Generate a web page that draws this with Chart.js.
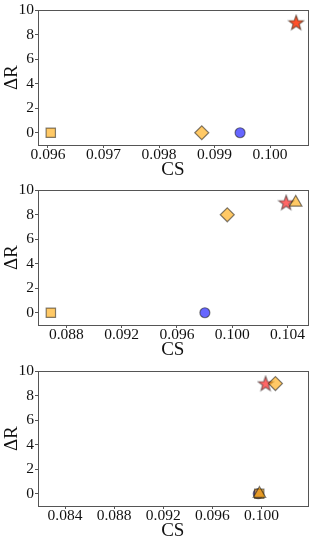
<!DOCTYPE html>
<html>
<head>
<meta charset="utf-8">
<script src="https://cdn.jsdelivr.net/npm/chart.js@4"></script>
<style>
  html, body { margin: 0; padding: 0; background: #fff; }
  body { width: 316px; height: 544px; position: relative; overflow: hidden; }
  .panel { position: absolute; left: 0; width: 316px; height: 180px; }
</style>
</head>
<body>
<div class="panel" style="top:0px"><canvas id="c0"></canvas></div>
<div class="panel" style="top:180px"><canvas id="c1"></canvas></div>
<div class="panel" style="top:361px"><canvas id="c2"></canvas></div>
<script>
// one entry per panel (top, middle, bottom); null = no point in that panel
const circleCS   = [0.09946, 0.09802, 0.09974];
const circleDR   = [0, 0, 0];
const squareCS   = [0.09605, 0.08688, 0.09982];
const squareDR   = [0, 0, 0];
const diamondCS  = [0.09877, 0.09964, 0.10114];
const diamondDR  = [0, 8, 9];
const triangleCS = [null, 0.10459, 0.09984];
const triangleDR = [null, 9, 0];
const starOrCS   = [0.10047, null, null];
const starOrDR   = [9, null, null];
const starCS     = [0.10047, 0.10390, 0.10034];
const starDR     = [9, 9, 9];

const xMin = [0.09582, 0.08595, 0.0818];
const xMax = [0.10068, 0.10545, 0.10376];
const xTicks = [
    [0.096, 0.097, 0.098, 0.099, 0.100],
    [0.088, 0.092, 0.096, 0.100, 0.104],
    [0.084, 0.088, 0.092, 0.096, 0.100]
];
const yTicks = [0, 2, 4, 6, 8, 10];

const ORANGE = 'rgba(255,165,0,0.6)';
const BLUE = 'rgba(0,0,255,0.6)';
const RED = 'rgba(255,0,0,0.6)';
const EDGE = 'rgba(30,30,30,0.55)';
const FONT = "'Liberation Serif', 'Times New Roman', serif";

function makeStar(fill, edge) {
    const c = document.createElement('canvas');
    c.width = 18; c.height = 18;
    const g = c.getContext('2d');
    const R = 7.8, r = 3.2;
    g.beginPath();
    for (let i = 0; i < 10; i++) {
        const a = -Math.PI / 2 + i * Math.PI / 5;
        const rad = i % 2 ? r : R;
        g.lineTo(9 + rad * Math.cos(a), 9.6 + rad * Math.sin(a));
    }
    g.closePath();
    g.fillStyle = fill;
    g.fill();
    if (edge) {
        g.strokeStyle = EDGE;
        g.lineWidth = 1.2;
        g.stroke();
    }
    return c;
}

function pts(xs, ys, i) {
    return xs[i] == null ? [] : [{x: xs[i], y: ys[i]}];
}

const frame = {
    id: 'frame',
    afterDraw(chart) {
        const a = chart.chartArea, ctx = chart.ctx;
        ctx.save();
        ctx.strokeStyle = '#555';
        ctx.lineWidth = 1;
        ctx.strokeRect(Math.round(a.left) + 0.5, Math.round(a.top) + 0.5,
            Math.round(a.right - a.left), Math.round(a.bottom - a.top));
        ctx.restore();
    }
};

function drawPanel(i) {
    const ds = (data, style, fill, radius) => ({
        data: data,
        pointStyle: style,
        pointRadius: radius,
        pointHoverRadius: radius,
        backgroundColor: fill,
        borderColor: EDGE,
        borderWidth: 1.2
    });
    // chart.js paints dataset 0 last, so the list runs top layer first
    new Chart(document.getElementById('c' + i), {
        type: 'scatter',
        data: {
            datasets: [
                ds(pts(triangleCS, triangleDR, i), 'triangle', ORANGE, 7.2),
                ds(pts(diamondCS, diamondDR, i), 'rectRot', ORANGE, 7),
                ds(pts(squareCS, squareDR, i), 'rect', ORANGE, 6.6),
                ds(pts(starCS, starDR, i), makeStar(RED, true), RED, 7),
                ds(pts(starOrCS, starOrDR, i), makeStar(ORANGE, false), ORANGE, 7),
                ds(pts(circleCS, circleDR, i), 'circle', BLUE, 5)
            ]
        },
        options: {
            responsive: true,
            maintainAspectRatio: false,
            animation: false,
            layout: { padding: { top: 9, right: 5, left: 0, bottom: 0 } },
            plugins: { legend: { display: false }, tooltip: { enabled: false } },
            scales: {
                x: {
                    type: 'linear',
                    min: xMin[i],
                    max: xMax[i],
                    afterBuildTicks: axis => { axis.ticks = xTicks[i].map(v => ({value: v})); },
                    afterFit: axis => { axis.height = 35; },
                    grid: { drawOnChartArea: false, color: '#555', tickLength: 3 },
                    border: { display: false },
                    ticks: {
                        autoSkip: false, maxRotation: 0, padding: -2,
                        color: '#111',
                        font: { family: FONT, size: 15.5 },
                        callback: v => v.toFixed(3)
                    },
                    title: {
                        display: true, text: 'CS', color: '#111',
                        font: { family: FONT, size: 19, lineHeight: 1 },
                        padding: { top: 0, bottom: 0 }
                    }
                },
                y: {
                    min: -1,
                    max: 10,
                    afterBuildTicks: axis => { axis.ticks = yTicks.map(v => ({value: v})); },
                    afterFit: axis => { axis.width = 38; },
                    grid: { drawOnChartArea: false, color: '#555', tickLength: 3 },
                    border: { display: false },
                    ticks: {
                        padding: 1, color: '#111',
                        font: { family: FONT, size: 15.5 },
                        callback: v => String(v)
                    },
                    title: {
                        display: true, text: 'ΔR', color: '#111',
                        font: { family: FONT, size: 19, lineHeight: 1 },
                        padding: { top: 3, bottom: 0 }
                    }
                }
            }
        },
        plugins: [frame]
    });
}

[0, 1, 2].forEach(drawPanel);
</script>
</body>
</html>
